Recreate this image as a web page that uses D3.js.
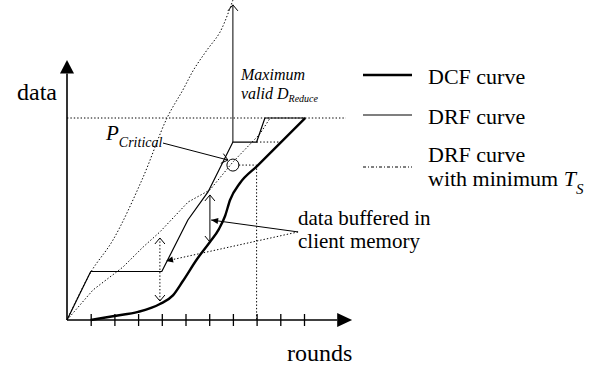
<!DOCTYPE html>
<html><head><meta charset="utf-8">
<script src="https://cdn.jsdelivr.net/npm/d3@7"></script>
</head><body style="margin:0">
<svg id="c" width="616" height="369"></svg>
<script>
// ---- data (x = rounds, y = data units) ----
const rounds = [1,2,3,4,5,6,7,8,9,10];
const dcfCurve = [[1,0],[2,0.2],[3,0.4],[3.92,0.79],[4.47,1.22],[4.89,1.93],[5.49,3.02],[6.03,3.86],[6.41,4.5],[6.67,5.15],[6.88,5.94],[7.3,6.78],[8.02,7.62],[10.05,10]];
const drfCurve = [[0,0],[1,2.4],[4,2.4],[5.1,4.95],[5.95,6.34],[7,8.81],[8,8.81],[8.35,10],[10.05,10]];
const drfSteep = [[0,0],[1.01,2.38],[1.94,3.96],[3.16,6.93],[4.22,10],[4.89,11.39],[5.35,12.4],[5.91,13.37],[6.46,14.26],[7.0,15.84]];
const drfMinTs = [[0,0],[1.1,1.49],[2.36,2.62],[3.21,3.61],[3.92,4.36],[5.11,5.84],[6.03,6.44],[7.0,7.82],[8.14,9.21],[8.57,10]];
const maxData = 10;
const tsRound = 8, tsLevel = 7.67;
const criticalPoint = [7, 7.67];
const reduceLevel = 8.81;
const bufArrowSolid = [6.03, 6.19, 3.86];
const bufArrowDotted = [3.92, 4.06, 0.94];
const reduceArrow = [7, 8.81, 15.6];
const pCritPointer = [[4.05,8.76],[6.79,7.92]];
const bufPointerSolid = [[9.75,4.36],[6.08,4.95]];
const bufPointerDotted = [[9.75,4.36],[4.18,2.92]];

const FONT = "Liberation Serif";
const svg = d3.select("#c");
const x = d3.scaleLinear().domain([0,10]).range([67,304]);
const y = d3.scaleLinear().domain([0,10]).range([320,118]);

// texts
function txt(xp,yp,size,s){
  return svg.append("text").attr("x",xp).attr("y",yp).attr("font-size",size).attr("font-family",FONT).text(s);
}
txt(57,100,24,"data").attr("text-anchor","end");
txt(287,361,24,"rounds");
const pc = txt(106,140,21,"").attr("font-style","italic");
pc.append("tspan").text("P");
pc.append("tspan").attr("font-size",14).attr("dy",7).text("Critical");
txt(241,80,16,"Maximum").attr("font-style","italic");
const vd = txt(241,99,16,"").attr("font-style","italic");
vd.append("tspan").text("valid D");
vd.append("tspan").attr("font-size",10).attr("dy",3).text("Reduce");
txt(298,225,21,"data buffered in");
txt(298,248,21,"client memory");

const legend = [
  {label:["DCF curve"], w:2.4, dash:null, ly:75, ty:[84]},
  {label:["DRF curve"], w:1.1, dash:null, ly:115, ty:[124]},
  {label:["DRF curve","with minimum "], w:1, dash:"3,2,1,2", ly:167, ty:[162,186]}
];
legend.forEach(l=>{
  const p = svg.append("line").attr("x1",363).attr("x2",412).attr("y1",l.ly).attr("y2",l.ly)
    .attr("stroke","#000").attr("stroke-width",l.w);
  if(l.dash) p.attr("stroke-dasharray",l.dash);
  l.label.forEach((t,i)=>{
    const tx = txt(428,l.ty[i],22,t);
    if(i===1){
      tx.append("tspan").attr("font-style","italic").text("T");
      tx.append("tspan").attr("font-style","italic").attr("font-size",15).attr("dy",8).text("S");
    }
  });
});

const dot = "1.4,2";
const line = d3.line().x(d=>x(d[0])).y(d=>y(d[1]));

// arrowheads drawn as plain paths (no markers)
function head(px,py,fromX,fromY,type){
  const a = Math.atan2(py-fromY, px-fromX);
  const c = Math.cos(a), s = Math.sin(a);
  const L = type==="filled"?7:6, W = type==="filled"?3:5;
  const p1 = [px - L*c + W*s, py - L*s - W*c];
  const p2 = [px - L*c - W*s, py - L*s + W*c];
  const p = svg.append("path");
  if(type==="filled") p.attr("d",`M${p1}L${px},${py}L${p2}Z`).attr("fill","#000");
  else p.attr("d",`M${p1}L${px},${py}L${p2}`).attr("fill","none").attr("stroke","#000").attr("stroke-width",1);
}
function seg(a,b,opts){
  const x1=x(a[0]),y1=y(a[1]),x2=x(b[0]),y2=y(b[1]);
  const p = svg.append("line").attr("x1",x1).attr("y1",y1).attr("x2",x2).attr("y2",y2)
    .attr("stroke","#000").attr("stroke-width",opts.w||1);
  if(opts.dash) p.attr("stroke-dasharray",opts.dash);
  if(opts.end) head(x2,y2,x1,y1,opts.end);
  if(opts.start) head(x1,y1,x2,y2,opts.start);
  return p;
}
seg([0,maxData],[11.77,maxData],{dash:dot});
seg([tsRound,tsLevel],[tsRound,0],{dash:dot});
seg([7.25,tsLevel],[tsRound,tsLevel],{dash:dot});
seg([8,reduceLevel],[9.05,reduceLevel],{dash:dot});

svg.append("path").datum(drfSteep).attr("d",line.curve(d3.curveCatmullRom.alpha(0.5))).attr("fill","none")
  .attr("stroke","#000").attr("stroke-width",1).attr("stroke-dasharray",dot);
svg.append("path").datum(drfMinTs).attr("d",line.curve(d3.curveLinear)).attr("fill","none")
  .attr("stroke","#000").attr("stroke-width",1).attr("stroke-dasharray",dot);
svg.append("path").datum(drfCurve).attr("d",line.curve(d3.curveLinear)).attr("fill","none")
  .attr("stroke","#000").attr("stroke-width",1.2);
svg.append("path").datum(dcfCurve).attr("d",line.curve(d3.curveMonotoneX)).attr("fill","none")
  .attr("stroke","#000").attr("stroke-width",2.4);

svg.append("line").attr("x1",x(0)).attr("y1",y(0)).attr("x2",x(11.4)).attr("y2",y(0)).attr("stroke","#000").attr("stroke-width",1.6);
svg.append("path").attr("d",`M${x(11.4)},${y(0)-7}L${x(12.03)},${y(0)}L${x(11.4)},${y(0)+7}Z`).attr("fill","#000");
svg.append("line").attr("x1",x(0)).attr("y1",y(0)).attr("x2",x(0)).attr("y2",y(12.2)).attr("stroke","#000").attr("stroke-width",1.6);
svg.append("path").attr("d",`M${x(0)-7},${y(12.2)}L${x(0)},${y(12.87)}L${x(0)+7},${y(12.2)}Z`).attr("fill","#000");
const ax = svg.append("g").attr("transform","translate(0,314)")
  .call(d3.axisBottom(x).tickValues(rounds).tickSize(12).tickFormat(""));
ax.select(".domain").remove();
ax.selectAll(".tick line").attr("stroke","#000").attr("stroke-width",1.3);

seg([reduceArrow[0],reduceArrow[1]],[reduceArrow[0],reduceArrow[2]],{end:"open"});
seg([bufArrowSolid[0],bufArrowSolid[1]],[bufArrowSolid[0],bufArrowSolid[2]],{end:"open",start:"open"});
seg([bufArrowDotted[0],bufArrowDotted[1]],[bufArrowDotted[0],bufArrowDotted[2]],{end:"open",start:"open",dash:dot});
seg(pCritPointer[0],pCritPointer[1],{end:"open"});
seg(bufPointerSolid[0],bufPointerSolid[1],{end:"filled"});
seg(bufPointerDotted[0],bufPointerDotted[1],{end:"filled",dash:dot});
svg.append("circle").attr("cx",x(criticalPoint[0])).attr("cy",y(criticalPoint[1])).attr("r",6)
  .attr("fill","none").attr("stroke","#000").attr("stroke-width",1);
</script>
</body></html>
